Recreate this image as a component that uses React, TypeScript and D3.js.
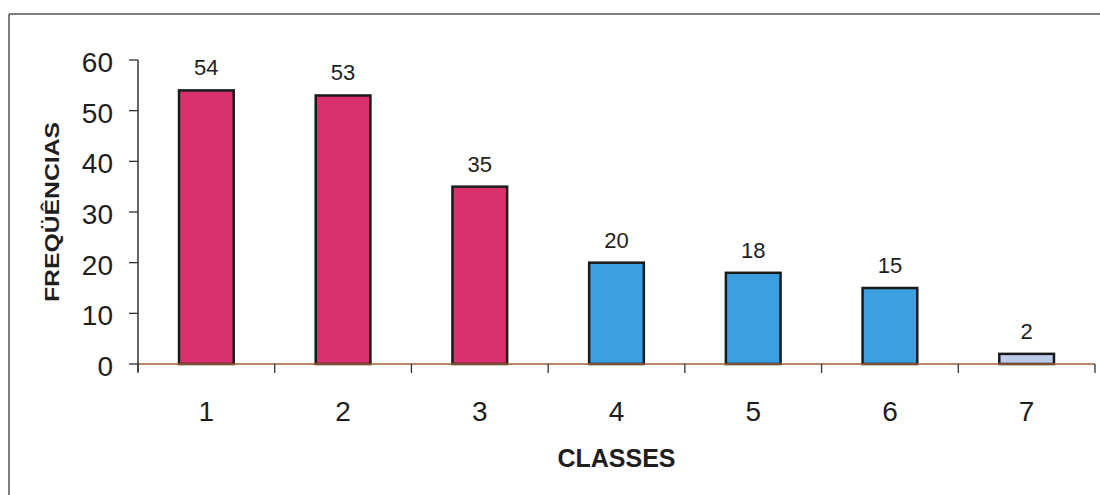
import React from "react";
import * as d3 from "d3";

const classes = ["1", "2", "3", "4", "5", "6", "7"];
const frequencies = [54, 53, 35, 20, 18, 15, 2];
const barColors = ["#d8316e", "#d8316e", "#d8316e", "#3b9fe0", "#3b9fe0", "#3b9fe0", "#bccae8"];
const yTicks = [0, 10, 20, 30, 40, 50, 60];
const yTitle = "FREQÜÊNCIAS";
const xTitle = "CLASSES";

export default function App() {
  const W = 1100;
  const H = 495;
  const left = 138;
  const right = 1095;
  const x = d3.scaleBand<string>().domain(classes).range([left, right]).paddingInner(0.6).paddingOuter(0.3);
  const y = d3.scaleLinear().domain([0, 60]).range([364, 60]);
  const step = x.step();
  const font = "Arial, 'Liberation Sans', sans-serif";
  const boundaries = d3.range(classes.length + 1).map((i) => left + i * step);

  return (
    <svg width={W} height={H} style={{ position: "absolute", left: 0, top: 0, background: "#fff" }} fontFamily={font}>
      {/* frame */}
      <line x1={9} y1={14} x2={W} y2={14} stroke="#555" strokeWidth={1.5} />
      <line x1={9} y1={14} x2={9} y2={H} stroke="#555" strokeWidth={1.5} />

      {/* bars */}
      {classes.map((c, i) => (
        <g key={c}>
          <rect
            x={x(c)!}
            y={y(frequencies[i])}
            width={x.bandwidth()}
            height={y(0) - y(frequencies[i])}
            fill={barColors[i]}
            stroke="#1a1a1a"
            strokeWidth={2.5}
          />
          <text
            x={x(c)! + x.bandwidth() / 2}
            y={y(frequencies[i]) - 15}
            textAnchor="middle"
            fontSize={22}
            fill="#1e1e1e"
          >
            {frequencies[i]}
          </text>
          <text x={x(c)! + x.bandwidth() / 2} y={421} textAnchor="middle" fontSize={28} fill="#1e1e1e">
            {c}
          </text>
        </g>
      ))}

      {/* x axis */}
      <line x1={left} y1={y(0)} x2={right} y2={y(0)} stroke="#a0603a" strokeWidth={1.3} />
      {boundaries.map((bx, i) => (
        <line key={i} x1={bx} y1={y(0)} x2={bx} y2={y(0) + 9} stroke="#333" strokeWidth={1.3} />
      ))}

      {/* y axis */}
      <line x1={left} y1={y(60)} x2={left} y2={y(0) + 8} stroke="#333" strokeWidth={1.5} />
      {yTicks.map((t) => (
        <g key={t}>
          <line x1={left - 9} y1={y(t)} x2={left} y2={y(t)} stroke="#333" strokeWidth={1.3} />
          <text x={113} y={y(t) + 12} textAnchor="end" fontSize={28} fill="#1e1e1e">
            {t}
          </text>
        </g>
      ))}

      {/* axis titles */}
      <text
        transform={`translate(59, 212) rotate(-90)`}
        textAnchor="middle"
        fontSize={21}
        fontWeight="bold"
        fill="#1e1e1e"
        textLength={180}
        lengthAdjust="spacingAndGlyphs"
      >
        {yTitle}
      </text>
      <text x={616.5} y={467} textAnchor="middle" fontSize={25} fontWeight="bold" fill="#1e1e1e">
        {xTitle}
      </text>
    </svg>
  );
}
